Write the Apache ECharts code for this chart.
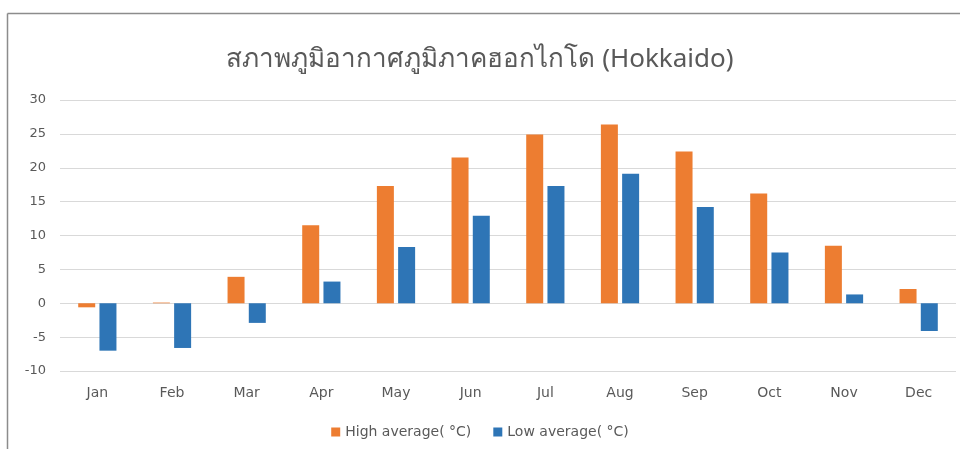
<!DOCTYPE html>
<html>
<head>
<meta charset="utf-8">
<title>Hokkaido climate</title>
<script src="https://cdn.jsdelivr.net/npm/echarts@6/dist/echarts.min.js"></script>
<style>
  html, body { margin: 0; padding: 0; background: #fff; }
  #chart { width: 960px; height: 449px; }
</style>
</head>
<body>
<div id="chart"></div>
<script>
// monthly averages, °C
const months = ["Jan", "Feb", "Mar", "Apr", "May", "Jun", "Jul", "Aug", "Sep", "Oct", "Nov", "Dec"];
const highAvg = [-0.6, 0.1, 3.9, 11.5, 17.3, 21.5, 24.9, 26.4, 22.4, 16.2, 8.5, 2.1];
const lowAvg = [-7.0, -6.6, -2.9, 3.2, 8.3, 12.9, 17.3, 19.1, 14.2, 7.5, 1.3, -4.1];
const seriesNames = ["High average( °C)", "Low average( °C)"];

const chart = echarts.init(document.getElementById("chart"));

const labelFont = "Tahoma, 'DejaVu Sans', 'Noto Sans', sans-serif";

var option = {
  backgroundColor: "#ffffff",
  animation: false,
  color: ["#ed7d31", "#2e75b6"],
  title: {
    text: "สภาพภูมิอากาศภูมิภาคฮอกไกโด (Hokkaido)",
    left: "center",
    top: 42,
    textStyle: {
      color: "#595959",
      fontSize: 26,
      fontWeight: "normal",
      fontFamily: "'Noto Sans', 'DejaVu Sans', sans-serif",
    },
  },
  legend: {
    bottom: 5,
    left: "center",
    itemWidth: 9,
    itemHeight: 9,
    itemGap: 22,
    icon: "rect",
    textStyle: { color: "#595959", fontSize: 14, fontFamily: labelFont },
    data: seriesNames,
  },
  grid: {
    left: 60,
    right: 4,
    top: 100,
    bottom: 78,
    containLabel: false,
  },
  xAxis: {
    type: "category",
    data: months,
    axisLine: { show: false },
    axisTick: { show: false },
    axisLabel: {
      color: "#595959",
      fontSize: 14,
      fontFamily: labelFont,
      margin: 15,
    },
  },
  yAxis: {
    type: "value",
    min: -10,
    max: 30,
    interval: 5,
    axisLine: { show: false },
    axisTick: { show: false },
    splitLine: { lineStyle: { color: "#d9d9d9", width: 1 } },
    axisLabel: {
      color: "#595959",
      fontSize: 13,
      fontFamily: labelFont,
      margin: 14,
    },
  },
  series: [
    {
      name: seriesNames[0],
      type: "bar",
      data: highAvg,
      barWidth: 17,
      barGap: "25%",
    },
    {
      name: seriesNames[1],
      type: "bar",
      data: lowAvg,
      barWidth: 17,
      barGap: "25%",
    },
  ],
  graphic: [
    {
      type: "line",
      shape: { x1: 7.5, y1: 13.5, x2: 960, y2: 13.5 },
      style: { stroke: "#8c8c8c", lineWidth: 1.5 },
      silent: true,
    },
    {
      type: "line",
      shape: { x1: 7.5, y1: 13.5, x2: 7.5, y2: 449 },
      style: { stroke: "#8c8c8c", lineWidth: 1.5 },
      silent: true,
    },
  ],
};

chart.setOption(option);
window.onresize = chart.resize;
</script>
</body>
</html>
